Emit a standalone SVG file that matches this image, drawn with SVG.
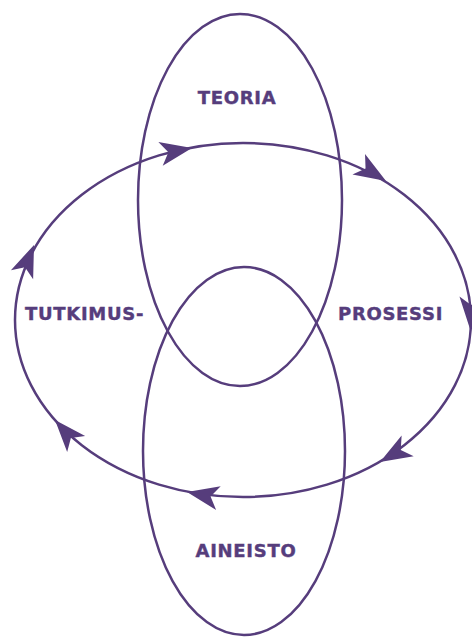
<svg xmlns="http://www.w3.org/2000/svg" xmlns:xlink="http://www.w3.org/1999/xlink" width="472" height="637" viewBox="0 0 472 637">
<style>
.ln{fill:none;stroke:#563d7c;stroke-width:2.5}
.ah{fill:#563d7c}
.lbl{font-family:"DejaVu Sans","Liberation Sans",sans-serif;font-weight:bold;font-size:18px;fill:#563d7c;stroke:#563d7c;stroke-width:0.4;letter-spacing:0.7px}
</style>
<defs>
<path id="ah" class="ah" d="M0,0 L-32,-12 L-24,0 L-32,12 Z"/>
</defs>
<rect width="472" height="637" fill="#ffffff"/>
<g id="teoria">
<ellipse class="ln" cx="240" cy="200" rx="102" ry="186"/>
<text class="lbl" x="237" y="104" text-anchor="middle">TEORIA</text>
</g>
<g id="aineisto">
<ellipse class="ln" cx="244" cy="451" rx="101" ry="184"/>
<text class="lbl" x="246" y="557" text-anchor="middle">AINEISTO</text>
</g>
<g id="tutkimus">
<text class="lbl" x="25" y="320">TUTKIMUS-</text>
</g>
<g id="prosessi">
<text class="lbl" x="338" y="320">PROSESSI</text>
</g>
<g id="connectors">
<ellipse class="ln" cx="243" cy="320" rx="228" ry="177"/>
<use xlink:href="#ah" transform="translate(192,148) rotate(-10.5)"/>
<use xlink:href="#ah" transform="translate(386,181) rotate(31.6)"/>
<use xlink:href="#ah" transform="translate(470,329) rotate(92.6)"/>
<use xlink:href="#ah" transform="translate(380,462) rotate(149.8)"/>
<use xlink:href="#ah" transform="translate(187,492) rotate(191)"/>
<use xlink:href="#ah" transform="translate(55,420) rotate(228.6)"/>
<use xlink:href="#ah" transform="translate(34,245) rotate(-68)"/>
</g>
</svg>
